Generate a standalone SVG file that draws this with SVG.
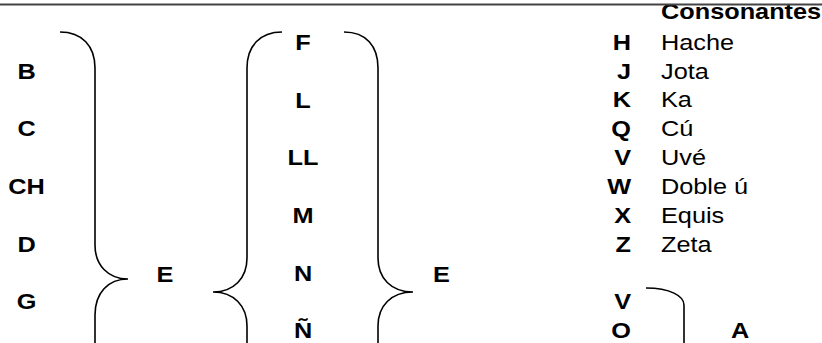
<svg xmlns="http://www.w3.org/2000/svg" width="822" height="343" viewBox="0 0 822 343">
<style>
text{font-family:"Liberation Sans",Arial,sans-serif;font-size:22px;fill:#000}
.b{font-weight:bold}
.m{text-anchor:middle}
.e{text-anchor:end}
.br{fill:none;stroke:#000;stroke-width:1.6}
</style>
<rect width="822" height="343" fill="#fff"/>
<g id="connectors">
<path class="br" d="M60,32 C82,32 95,46 95,68 L95,245 C95,265 108,279 128,279 C108,279 95,293 95,315 L95,350"/>
<path class="br" d="M282,32 C260,32 247,46 247,68 L247,258 C247,278 234,292 213,292 C234,292 247,306 247,326 L247,350"/>
<path class="br" d="M344,32 C366,32 378,46 378,68 L378,258 C378,278 391,292 413,292 C391,292 378,306 378,326 L378,350"/>
<path class="br" d="M646,288 C670,288 684,296 684,305 L684,350"/>
</g>
<g id="col-left">
<text class="b m" transform="translate(26.5,78.5) scale(1.15,1)">B</text>
<text class="b m" transform="translate(26.5,136) scale(1.15,1)">C</text>
<text class="b m" transform="translate(26.5,194) scale(1.15,1)">CH</text>
<text class="b m" transform="translate(26.5,252) scale(1.15,1)">D</text>
<text class="b m" transform="translate(26.5,309) scale(1.15,1)">G</text>
</g>
<g id="e1"><text class="b m" transform="translate(165,282) scale(1.15,1)">E</text></g>
<g id="col-mid">
<text class="b m" transform="translate(303,50) scale(1.15,1)">F</text>
<text class="b m" transform="translate(303,107.5) scale(1.15,1)">L</text>
<text class="b m" transform="translate(303,165) scale(1.15,1)">LL</text>
<text class="b m" transform="translate(303,223) scale(1.15,1)">M</text>
<text class="b m" transform="translate(303,281) scale(1.15,1)">N</text>
<text class="b m" transform="translate(303,338) scale(1.15,1)">Ñ</text>
</g>
<g id="e2"><text class="b m" transform="translate(441.5,282) scale(1.15,1)">E</text></g>
<g id="consonantes">
<text class="b" transform="translate(661,18.5) scale(1.15,1)">Consonantes</text>
<text class="b e" transform="translate(631,49.5) scale(1.15,1)">H</text>
<text transform="translate(661,49.5) scale(1.15,1)">Hache</text>
<text class="b e" transform="translate(631,78.5) scale(1.15,1)">J</text>
<text transform="translate(661,78.5) scale(1.15,1)">Jota</text>
<text class="b e" transform="translate(631,107) scale(1.15,1)">K</text>
<text transform="translate(661,107) scale(1.15,1)">Ka</text>
<text class="b e" transform="translate(631,136) scale(1.15,1)">Q</text>
<text transform="translate(661,136) scale(1.15,1)">Cú</text>
<text class="b e" transform="translate(631,165) scale(1.15,1)">V</text>
<text transform="translate(661,165) scale(1.15,1)">Uvé</text>
<text class="b e" transform="translate(631,194) scale(1.15,1)">W</text>
<text transform="translate(661,194) scale(1.15,1)">Doble ú</text>
<text class="b e" transform="translate(631,222.5) scale(1.15,1)">X</text>
<text transform="translate(661,222.5) scale(1.15,1)">Equis</text>
<text class="b e" transform="translate(631,251.5) scale(1.15,1)">Z</text>
<text transform="translate(661,251.5) scale(1.15,1)">Zeta</text>
</g>
<g id="vo">
<text class="b e" transform="translate(631,309) scale(1.15,1)">V</text>
<text class="b e" transform="translate(631,338) scale(1.15,1)">O</text>
</g>
<g id="a"><text class="b m" transform="translate(740,338) scale(1.15,1)">A</text></g>
<rect x="0" y="0" width="822" height="4" fill="#fff"/>
<line x1="0" y1="4.5" x2="822" y2="4.5" stroke="#444" stroke-width="2"/>
</svg>
